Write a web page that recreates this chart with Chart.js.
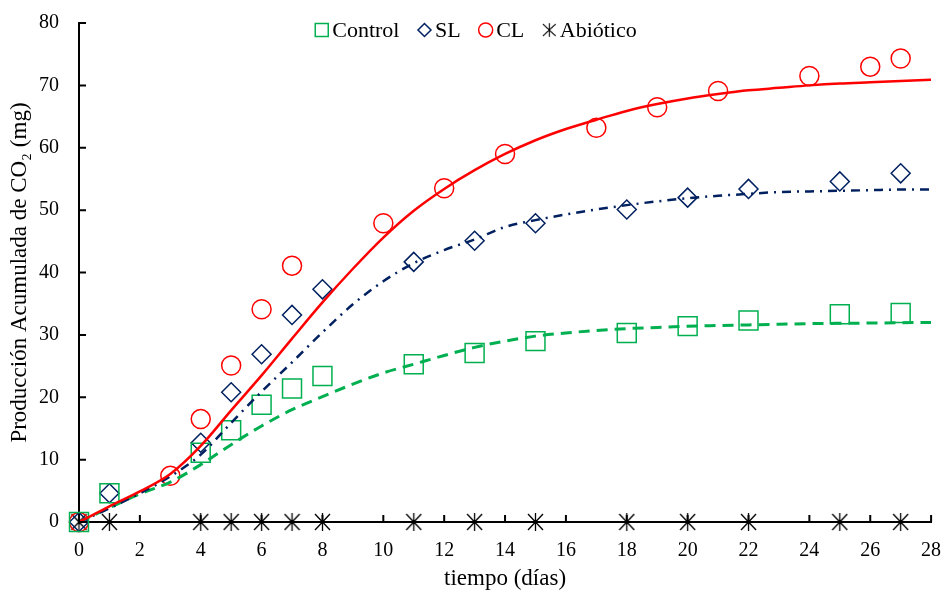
<!DOCTYPE html>
<html>
<head>
<meta charset="utf-8">
<script src="https://cdn.jsdelivr.net/npm/chart.js@4.4.1/dist/chart.umd.min.js"></script>
<style>
  html, body { margin: 0; padding: 0; background: #fff; }
</style>
</head>
<body>
<canvas id="co2Chart" width="946" height="593"></canvas>
<script>
// DATOS MEDIDOS (días, mg CO2)
const diasControl = [0, 1, 4, 5, 6, 7, 8, 11, 13, 15, 18, 20, 22, 25, 27];
const valControl  = [0, 4.6, 11.1, 14.7, 18.8, 21.4, 23.4, 25.3, 27.1, 29.0, 30.3, 31.4, 32.3, 33.3, 33.5];

const diasSL = [0, 1, 4, 5, 6, 7, 8, 11, 13, 15, 18, 20, 22, 25, 27];
const valSL  = [0, 4.6, 12.7, 20.8, 26.9, 33.2, 37.3, 41.7, 45.1, 47.9, 50.1, 52.0, 53.4, 54.6, 55.9];

const diasCL = [0, 3, 4, 5, 6, 7, 10, 12, 14, 17, 19, 21, 24, 26, 27];
const valCL  = [0, 7.4, 16.5, 25.1, 34.1, 41.1, 47.9, 53.5, 59.0, 63.2, 66.5, 69.1, 71.5, 73.0, 74.3];

const diasAbiotico = [0, 1, 4, 5, 6, 7, 8, 11, 13, 15, 18, 20, 22, 25, 27];
const valAbiotico  = [0, 0, 0, 0, 0, 0, 0, 0, 0, 0, 0, 0, 0, 0, 0];

// CURVAS AJUSTADAS
const diasAjuste = [0, 1, 2, 3, 4, 5, 6, 7, 8, 9, 10, 11, 12, 13, 14, 15, 16, 17, 18, 19, 20, 21, 22, 23, 24, 25, 26, 27, 28];
const ajusteControl = [0, 2.3, 4.5, 6.4, 9.2, 12.4, 15.4, 18.0, 20.1, 22.1, 23.9, 25.3, 26.7, 28.0, 29.0, 29.8, 30.3, 30.7, 31.0, 31.2, 31.4, 31.5, 31.6, 31.7, 31.8, 31.85, 31.9, 31.95, 32.0];
const ajusteSL = [0, 2.2, 4.6, 7.3, 10.8, 15.9, 20.9, 25.6, 30.4, 34.9, 38.6, 41.5, 43.6, 45.3, 47.3, 48.4, 49.3, 50.1, 50.8, 51.4, 51.9, 52.3, 52.6, 52.9, 53.0, 53.1, 53.2, 53.3, 53.3];
const ajusteCL = [0, 2.5, 4.9, 7.7, 12.2, 17.9, 23.5, 29.4, 35.2, 40.6, 45.6, 49.9, 53.4, 56.4, 59.0, 61.2, 63.0, 64.5, 65.9, 67.0, 67.9, 68.6, 69.2, 69.6, 70.0, 70.3, 70.5, 70.7, 70.9];

const ticksX = [0, 28, 2];   // min, max, paso
const ticksY = [0, 80, 10];

const VERDE = '#00B050';
const AZUL = '#002060';
const ROJO = '#FF0000';
const FUENTE = "'Liberation Serif', 'Times New Roman', serif";

const pares = (xs, ys) => xs.map((x, i) => ({ x: x, y: ys[i] }));

// Asterisco de 6 brazos (como en Excel)
function hacerAsterisco(w, h, lw) {
    const c = document.createElement('canvas');
    c.width = w + 2; c.height = h + 2;
    const g = c.getContext('2d');
    g.strokeStyle = '#000';
    g.lineWidth = lw;
    const cx = c.width / 2, cy = c.height / 2;
    g.beginPath();
    g.moveTo(cx, cy - h / 2); g.lineTo(cx, cy + h / 2);
    g.moveTo(cx - w / 2, cy - h / 2 + 1); g.lineTo(cx + w / 2, cy + h / 2 - 1);
    g.moveTo(cx + w / 2, cy - h / 2 + 1); g.lineTo(cx - w / 2, cy + h / 2 - 1);
    g.stroke();
    return c;
}
const asterisco = hacerAsterisco(15, 18, 1.3);

// Marcas hacia adentro en los ejes
const marcasInternas = {
    id: 'marcasInternas',
    afterDraw(chart) {
        const { ctx, chartArea, scales } = chart;
        ctx.save();
        ctx.strokeStyle = '#000';
        ctx.lineWidth = 2;
        ctx.beginPath();
        scales.x.ticks.forEach(t => {
            const px = scales.x.getPixelForValue(t.value);
            ctx.moveTo(px, chartArea.bottom);
            ctx.lineTo(px, chartArea.bottom - 7);
        });
        scales.y.ticks.forEach(t => {
            const py = scales.y.getPixelForValue(t.value);
            ctx.moveTo(chartArea.left, py);
            ctx.lineTo(chartArea.left + 7, py);
        });
        ctx.stroke();
        ctx.restore();
    }
};

// Leyenda dentro del área del gráfico
const leyenda = {
    id: 'leyenda',
    afterDraw(chart) {
        const ctx = chart.ctx;
        const y = 30;
        const items = [
            { texto: 'Control', marca: (x) => { ctx.strokeStyle = VERDE; ctx.lineWidth = 1.5; ctx.strokeRect(x - 6.5, y - 6.5, 13, 13); } },
            { texto: 'SL', marca: (x) => { ctx.strokeStyle = AZUL; ctx.lineWidth = 1.5; ctx.beginPath(); ctx.moveTo(x - 6.5, y); ctx.lineTo(x, y - 6.5); ctx.lineTo(x + 6.5, y); ctx.lineTo(x, y + 6.5); ctx.closePath(); ctx.stroke(); } },
            { texto: 'CL', marca: (x) => { ctx.strokeStyle = ROJO; ctx.lineWidth = 1.5; ctx.beginPath(); ctx.arc(x, y, 7, 0, Math.PI * 2); ctx.stroke(); } },
            { texto: 'Abiótico', marca: (x) => { ctx.drawImage(asterisco, x - asterisco.width * 0.425, y - asterisco.height * 0.375, asterisco.width * 0.85, asterisco.height * 0.75); } }
        ];
        ctx.save();
        ctx.font = '22px ' + FUENTE;
        ctx.textBaseline = 'middle';
        ctx.textAlign = 'left';
        const medio = 6.5, gapMarca = 10.5, gapItem = 25;
        let total = 0;
        items.forEach((it, i) => {
            it.w = ctx.measureText(it.texto).width;
            total += medio * 2 + (gapMarca - medio) + it.w;
            if (i < items.length - 1) total += gapItem - medio;
        });
        let x = 476 - total / 2 + medio;
        items.forEach(it => {
            it.marca(x);
            ctx.fillStyle = '#000';
            ctx.fillText(it.texto, x + gapMarca, y + 1);
            x += gapMarca + it.w + gapItem;
        });
        ctx.restore();
    }
};

Chart.defaults.font.family = FUENTE;
Chart.defaults.color = '#000';

const ctx = document.getElementById('co2Chart').getContext('2d');
const co2Chart = new Chart(ctx, {
    type: 'scatter',
    data: {
        datasets: [{
            label: 'Ajuste CL',
            data: pares(diasAjuste, ajusteCL),
            showLine: true,
            borderColor: ROJO,
            borderWidth: 2.5,
            pointRadius: 0,
            cubicInterpolationMode: 'monotone',
            order: 0
        }, {
            label: 'Ajuste SL',
            data: pares(diasAjuste, ajusteSL),
            showLine: true,
            borderColor: AZUL,
            borderWidth: 2.5,
            borderDash: [9, 6, 2, 6],
            pointRadius: 0,
            cubicInterpolationMode: 'monotone',
            order: 0
        }, {
            label: 'Ajuste Control',
            data: pares(diasAjuste, ajusteControl),
            showLine: true,
            borderColor: VERDE,
            borderWidth: 3,
            borderDash: [11, 7],
            pointRadius: 0,
            cubicInterpolationMode: 'monotone',
            order: 0
        }, {
            label: 'Control',
            data: pares(diasControl, valControl),
            pointStyle: 'rect',
            pointRadius: 13.4,
            borderColor: VERDE,
            backgroundColor: 'transparent',
            borderWidth: 1.5,
            clip: false,
            order: 1
        }, {
            label: 'SL',
            data: pares(diasSL, valSL),
            pointStyle: 'rectRot',
            pointRadius: 9.5,
            borderColor: AZUL,
            backgroundColor: 'transparent',
            borderWidth: 1.5,
            clip: false,
            order: 1
        }, {
            label: 'CL',
            data: pares(diasCL, valCL),
            pointStyle: 'circle',
            pointRadius: 9.5,
            borderColor: ROJO,
            backgroundColor: 'transparent',
            borderWidth: 1.5,
            clip: false,
            order: 1
        }, {
            label: 'Abiótico',
            data: pares(diasAbiotico, valAbiotico),
            pointStyle: asterisco,
            clip: false,
            order: 1
        }]
    },
    options: {
        responsive: false,
        animation: false,
        layout: { padding: { top: 23, right: 13, bottom: 0, left: 0 } },
        plugins: {
            legend: { display: false },
            tooltip: { enabled: false }
        },
        scales: {
            x: {
                type: 'linear',
                min: ticksX[0], max: ticksX[1],
                ticks: { stepSize: ticksX[2], padding: 17, font: { size: 20 } },
                grid: { display: false, drawTicks: false },
                border: { display: true, color: '#000', width: 2 },
                title: { display: true, text: 'tiempo (días)', font: { size: 23 }, padding: { top: 0, bottom: 0 } },
                afterFit: (s) => { s.height = 71; s.paddingLeft = 0; s.paddingRight = 0; }
            },
            y: {
                type: 'linear',
                min: ticksY[0], max: ticksY[1],
                ticks: { stepSize: ticksY[2], padding: 20, font: { size: 20 } },
                grid: { display: false, drawTicks: false },
                border: { display: true, color: '#000', width: 2 },
                title: { display: true, text: 'Producción Acumulada de CO₂ (mg)', font: { size: 23 }, padding: { top: 6, bottom: 0 } },
                afterFit: (s) => { s.width = 79; s.paddingTop = 0; s.paddingBottom = 0; }
            }
        }
    },
    plugins: [marcasInternas, leyenda]
});
</script>
</body>
</html>
